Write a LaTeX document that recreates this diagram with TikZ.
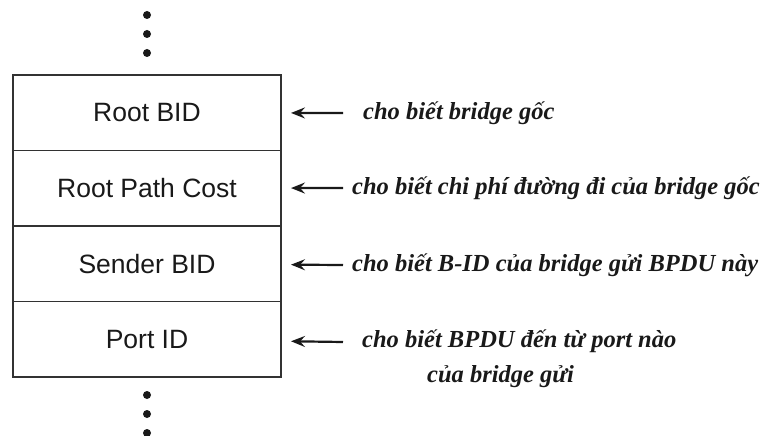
\documentclass[tikz,border=0pt]{standalone}
\usepackage{fontspec}
\setmainfont{Liberation Serif}
\setsansfont{Liberation Sans}
\usepackage{xcolor}
\usetikzlibrary{arrows.meta,positioning}
\definecolor{frame}{RGB}{50,50,50}
\definecolor{ink}{RGB}{25,25,25}

\begin{document}
\begin{tikzpicture}[x=1pt, y=-1pt,
    field/.style={draw=frame, line width=1.6pt, minimum width=268pt,
                  minimum height=75.5pt, inner sep=0pt, outer sep=0pt,
                  font=\sffamily\fontsize{26.5}{30}\selectfont, text=ink},
    note/.style={font=\bfseries\itshape\fontsize{24.5}{35}\selectfont, text=ink,
                 inner sep=0pt},
    arr/.style={-{Stealth[length=14pt, width=11pt, inset=5pt]}, line width=2.2pt,
                draw=ink, shorten >=10pt},
    dot/.style={fill=ink},
  ]
  \useasboundingbox (0,0) rectangle (761,436);

  % the four fields of the BPDU
  \node[field, anchor=north west] (rootbid) at (13,75) {Root BID};
  \node[field, below=0pt of rootbid] (pathcost) {Root Path Cost};
  \node[field, below=0pt of pathcost] (sender) {Sender BID};
  \node[field, below=0pt of sender] (portid) {Port ID};

  % explanations
  \node[note, anchor=west] (n1) at (363,113) {cho biết bridge gốc};
  \node[note, anchor=west] (n2) at (352,188) {cho biết chi phí đường đi của bridge gốc};
  \node[note, anchor=west] (n3) at (352,265) {cho biết B-ID của bridge gửi BPDU này};
  \node[note, anchor=west, align=left] (n4) at (362,359)
    {cho biết BPDU đến từ port nào\\\hspace*{65pt}của bridge gửi};

  \coordinate (a1) at (343,113);
  \coordinate (a2) at (343,188);
  \coordinate (a3) at (343,265);
  \coordinate (a4) at (343,342);
  \draw[arr] (a1) -- (rootbid);
  \draw[arr] (a2) -- (pathcost);
  \draw[arr] (a3) -- (sender);
  \draw[arr] (a4) -- (portid);

  % continuation dots
  \foreach \y in {15,34,53} \fill[dot] (147,\y) circle (4);
  \foreach \y in {395,414,433} \fill[dot] (147,\y) circle (4);
\end{tikzpicture}
\end{document}
